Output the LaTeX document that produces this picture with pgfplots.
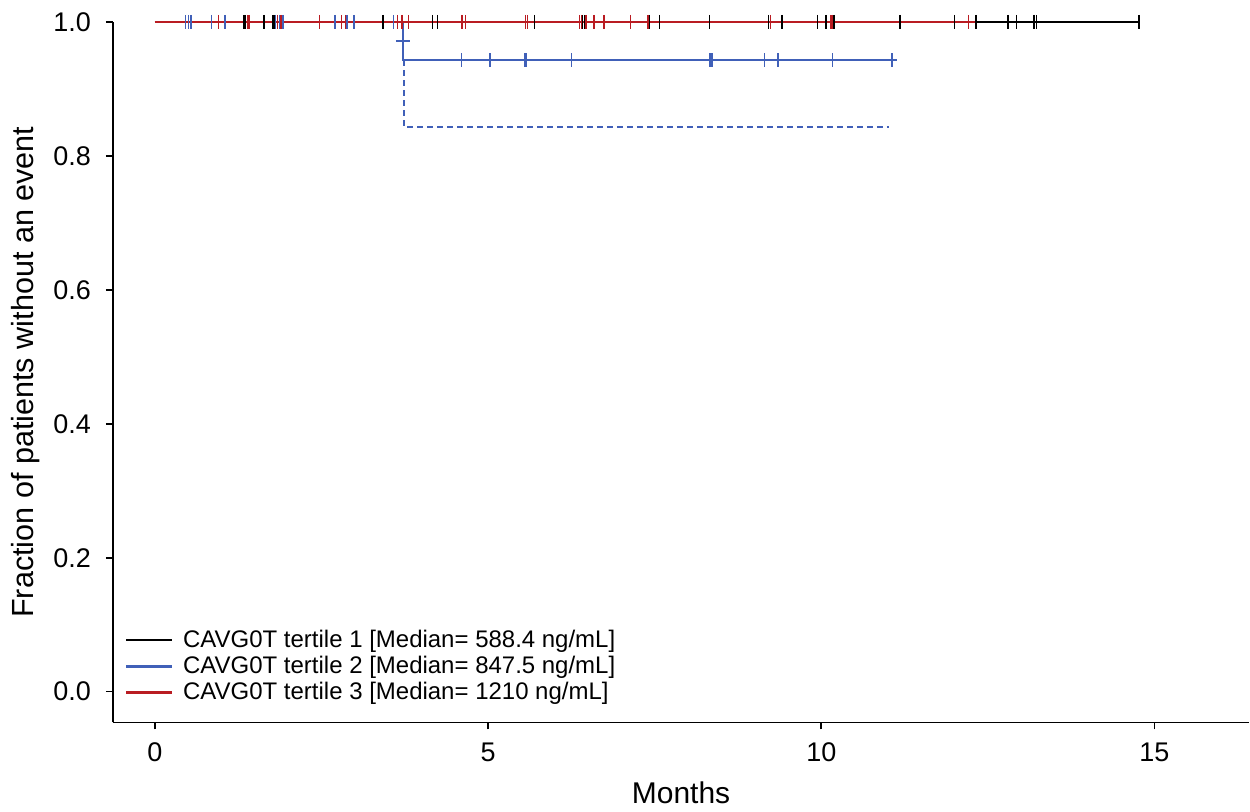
\documentclass[border=0pt]{standalone}
\usepackage{fontspec}
\setmainfont{Liberation Sans}
\usepackage{pgfplots}
\pgfplotsset{compat=1.18}

\definecolor{kmblue}{RGB}{64,96,184}
\definecolor{kmred}{RGB}{185,28,34}

\begin{document}
\begin{tikzpicture}
\begin{axis}[
    scale only axis,
    width=568.5pt, height=350.5pt,
    xmin=-0.63, xmax=16.42,
    ymin=-0.046, ymax=1.0,
    axis x line*=bottom, axis y line*=left,
    axis line style={-, line width=0.9pt},
    xtick={0,5,10,15},
    ytick={0,0.2,0.4,0.6,0.8,1.0},
    /pgf/number format/assume math mode=true,
    tick align=outside,
    major tick length=3.5pt,
    tick style={black, line width=0.8pt},
    ticklabel style={font=\fontsize{13.5pt}{15pt}\selectfont},
    xticklabel style={yshift=-3pt},
    yticklabel style={xshift=-4pt, /pgf/number format/.cd, fixed, fixed zerofill, precision=1},
    xlabel={Months},
    ylabel={Fraction of patients without an event},
    xlabel style={font=\fontsize{15pt}{17pt}\selectfont, yshift=-3pt},
    ylabel style={font=\fontsize{15.3pt}{17pt}\selectfont},
    legend style={at={(0.005,0.016)}, anchor=south west, draw=none, fill=none,
        font=\fontsize{12pt}{12.5pt}\selectfont, row sep=-1pt},
    legend cell align=left,
    legend image code/.code={\draw[#1] (0cm,0cm) -- (0.8cm,0cm); \path (0.91cm,0cm);},
    clip=false,
]
% survival curves
\addplot[black, line width=1.2pt] coordinates {(0,1)(14.77,1)};
\addlegendentry{CAVG0T tertile 1 [Median= 588.4 ng/mL]}
\addplot[kmblue, line width=1.2pt, const plot] coordinates {(0,1)(3.72,0.943)(11.14,0.943)};
\addlegendentry{CAVG0T tertile 2 [Median= 847.5 ng/mL]}
\addplot[kmred, line width=1.2pt] coordinates {(0,1)(12.32,1)};
\addlegendentry{CAVG0T tertile 3 [Median= 1210 ng/mL]}
\addplot[kmblue, line width=1pt, dash pattern=on 3pt off 2pt, forget plot] coordinates {(3.74,0.943)(3.74,0.843)(11.02,0.843)};

% censor marks
\addplot[black, only marks, mark=|, mark size=3.5pt, mark options={line width=0.7pt}, forget plot] coordinates {
(1.34,1)(1.36,1)(1.64,1)(1.77,1)(1.79,1)(3.42,1)(4.17,1)(4.24,1)(5.70,1)
(6.42,1)(6.45,1)(7.42,1)(7.57,1)(8.32,1)(9.21,1)(9.41,1)(9.94,1)(10.07,1)
(10.19,1)(11.18,1)(12.0,1)(12.32,1)(12.80,1)(12.93,1)(13.18,1)(13.20,1)
(13.23,1)(14.77,1)};
\addplot[kmred, only marks, mark=|, mark size=3.5pt, mark options={line width=0.7pt}, forget plot] coordinates {
(0.95,1)(1.39,1)(1.41,1)(1.84,1)(1.89,1)(2.47,1)(2.80,1)(2.86,1)(3.64,1)
(3.71,1)(3.81,1)(4.60,1)(4.62,1)(4.66,1)(5.56,1)(5.59,1)(6.37,1)(6.40,1)
(6.47,1)(6.59,1)(6.74,1)(7.14,1)(7.40,1)(9.24,1)(10.14,1)(10.16,1)(12.21,1)};
\addplot[kmblue, only marks, mark=|, mark size=3.5pt, mark options={line width=0.7pt}, forget plot] coordinates {
(0.46,1)(0.50,1)(0.54,1)(0.85,1)(1.05,1)(1.81,1)(1.87,1)(1.92,1)(2.70,1)
(2.88,1)(2.99,1)(3.58,1)
(4.60,0.943)(5.03,0.943)(5.55,0.943)(5.57,0.943)(6.25,0.943)(8.33,0.943)
(8.36,0.943)(9.15,0.943)(9.35,0.943)(10.17,0.943)(11.06,0.943)};
\addplot[kmblue, only marks, mark=+, mark size=3.5pt, mark options={line width=0.9pt}, forget plot] coordinates {(3.72,0.971)};

% page margins as in the reference
\path (rel axis cs:0,1) ++(-56.5pt,11pt);
\path (rel axis cs:1,0) ++(0pt,-44.5pt);
\end{axis}
\end{tikzpicture}
\end{document}
